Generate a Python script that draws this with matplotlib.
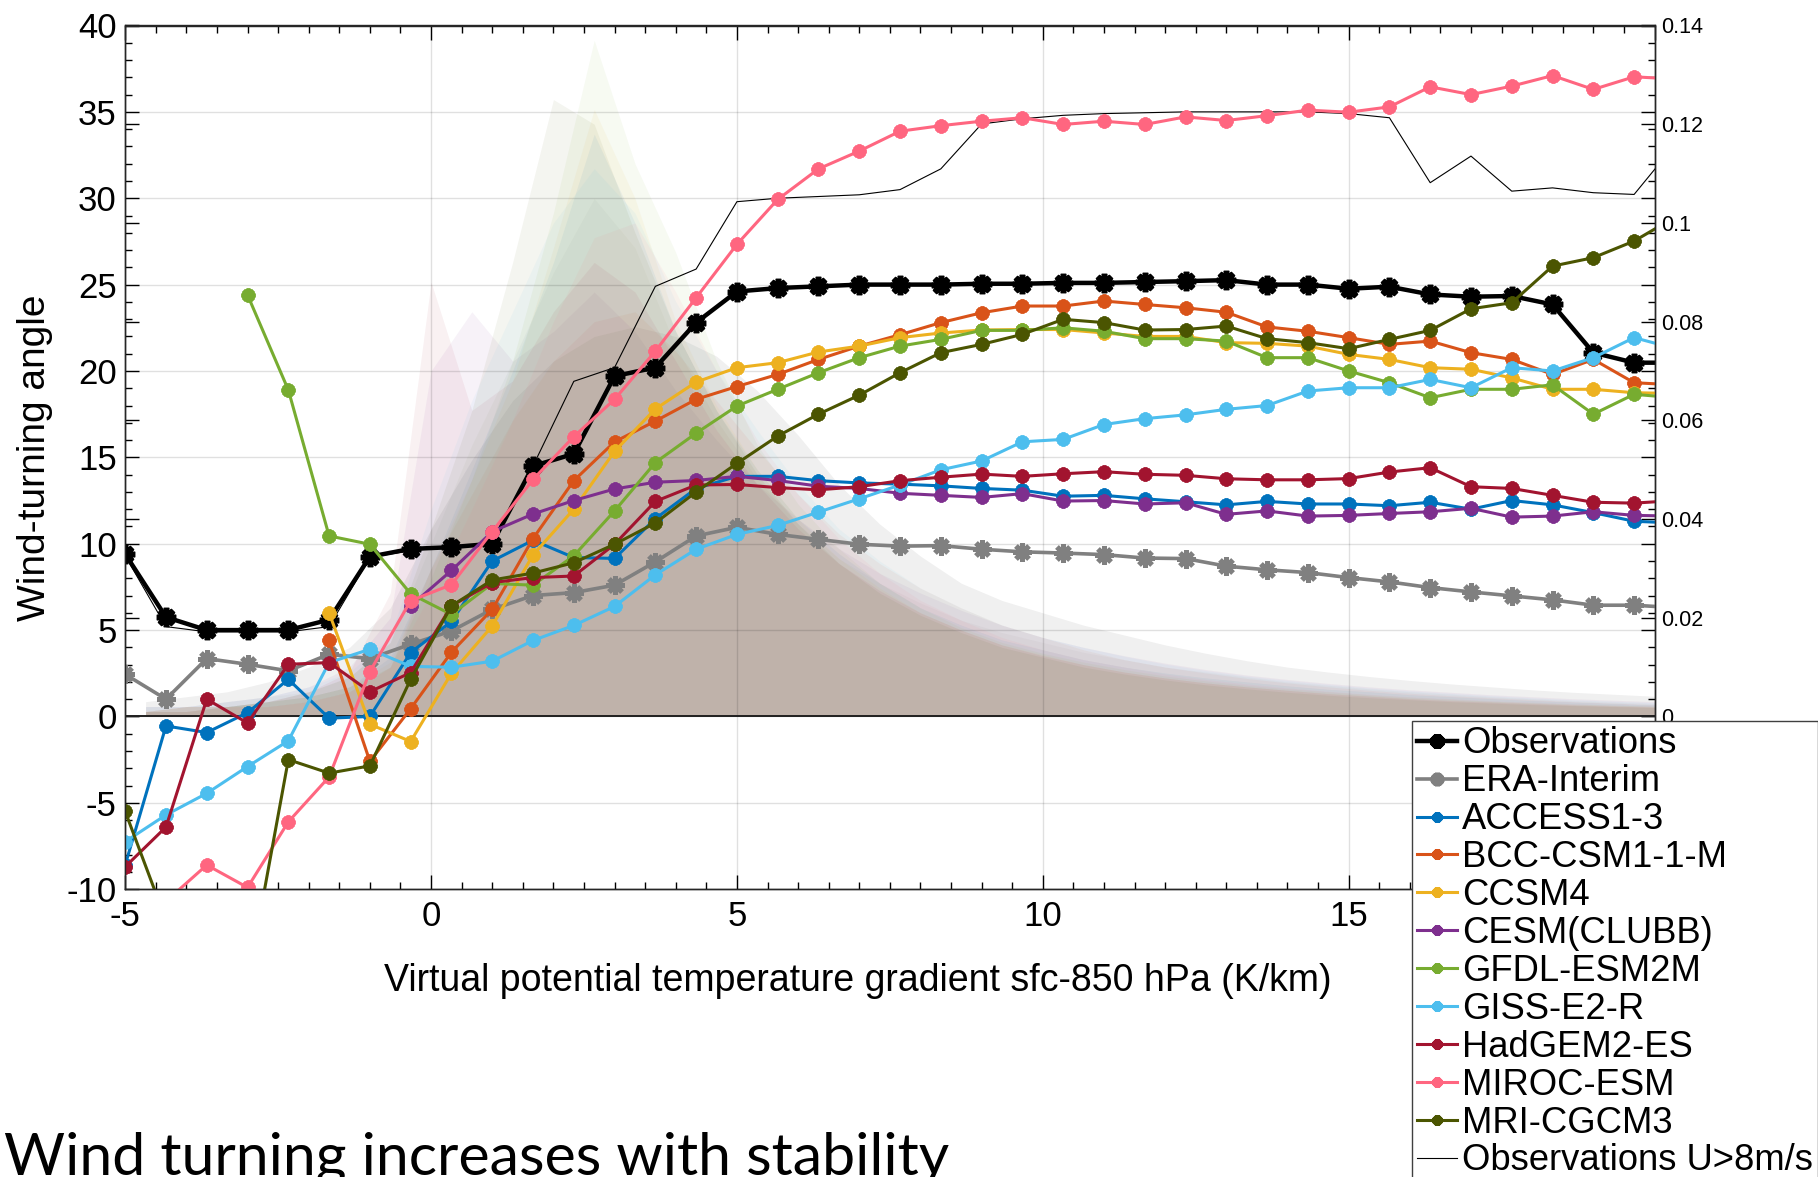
import numpy as np
import matplotlib
matplotlib.use('Agg')
import matplotlib.pyplot as plt
from matplotlib.ticker import MultipleLocator

plt.rcParams['font.family'] = ['Liberation Sans', 'DejaVu Sans']
plt.rcParams['axes.unicode_minus'] = False

nan = np.nan

# stability bin centres (K/km); the pdfs sit on the bin edges
x = -5 + np.arange(39) * 2 / 3
x_pdf = x + 1 / 3

# mean wind-turning angle per bin (deg)
obs = [9.4, 5.75, 5.0, 5.0, 5.0, 5.6, 9.25, 9.7, 9.8, 10.0, 14.5, 15.2, 19.7, 20.2, 22.8, 24.6,
       24.8, 24.9, 25.0, 25.0, 25.0, 25.05, 25.05, 25.1, 25.1, 25.15, 25.2, 25.26, 25.0, 25.0,
       24.76, 24.88, 24.43, 24.3, 24.34, 23.85, 21.06, 20.48, 20.48]
obs_u8 = [9.3, 5.2, 4.9, 4.9, 4.9, 5.2, 9.2, 9.6, 9.8, 10.0, 14.5, 19.4, 20.2, 24.9, 25.9, 29.8,
          30.0, 30.1, 30.2, 30.5, 31.7, 34.3, 34.6, 34.8, 34.9, 34.95, 35.0, 35.0, 35.0, 35.0,
          34.9, 34.66, 30.9, 32.44, 30.41, 30.6, 30.32, 30.22, 33.1]
era = [2.44, 1.0, 3.35, 3.02, 2.64, 3.6, 3.35, 4.18, 4.95, 6.2, 7.0, 7.17, 7.6, 8.95, 10.45, 10.95,
       10.54, 10.25, 9.97, 9.86, 9.89, 9.68, 9.53, 9.46, 9.37, 9.17, 9.14, 8.7, 8.49, 8.33, 8.04,
       7.79, 7.46, 7.21, 6.98, 6.75, 6.44, 6.44, 6.3]
access = [-8.6, -0.55, -0.93, 0.22, 2.15, -0.1, 0.0, 3.7, 5.5, 9.0, 10.2, 9.2, 9.15, 11.45, 13.2,
          13.9, 13.9, 13.65, 13.52, 13.45, 13.35, 13.2, 13.1, 12.75, 12.8, 12.6, 12.43, 12.25,
          12.45, 12.3, 12.3, 12.2, 12.4, 12.0, 12.5, 12.25, 11.8, 11.3, 11.2]
bcc = [nan, nan, nan, nan, nan, 4.4, -2.6, 0.45, 3.72, 6.2, 10.3, 13.65, 15.9, 17.1, 18.36, 19.1,
       19.8, 20.67, 21.44, 22.1, 22.8, 23.37, 23.76, 23.76, 24.05, 23.85, 23.66, 23.4, 22.55,
       22.3, 21.93, 21.54, 21.73, 21.06, 20.67, 19.8, 20.67, 19.32, 19.2]
ccsm4 = [nan, nan, nan, nan, nan, 6.0, -0.45, -1.45, 2.5, 5.24, 9.35, 12.0, 15.35, 17.8, 19.36,
         20.19, 20.48, 21.1, 21.44, 21.93, 22.2, 22.37, 22.4, 22.4, 22.2, 22.0, 22.0, 21.64, 21.6,
         21.44, 20.96, 20.67, 20.19, 20.1, 19.6, 18.94, 18.94, 18.74, 18.7]
cesm = [nan, nan, nan, nan, nan, nan, nan, 6.4, 8.45, 10.7, 11.72, 12.5, 13.17, 13.56, 13.66,
        13.9, 13.66, 13.33, 13.2, 12.92, 12.8, 12.68, 12.9, 12.47, 12.5, 12.3, 12.37, 11.7, 11.9,
        11.6, 11.64, 11.75, 11.85, 12.05, 11.54, 11.6, 11.85, 11.64, 11.6]
gfdl = [nan, nan, nan, 24.4, 18.9, 10.45, 9.97, 7.1, 5.9, 7.7, 7.6, 9.3, 11.9, 14.7, 16.4, 17.97,
        18.94, 19.9, 20.77, 21.44, 21.83, 22.35, 22.35, 22.5, 22.3, 21.87, 21.87, 21.73, 20.77,
        20.77, 20.0, 19.32, 18.45, 18.94, 18.94, 19.2, 17.5, 18.65, 18.45]
giss = [-7.25, -5.7, -4.45, -2.9, -1.41, 3.12, 3.89, 2.9, 2.85, 3.2, 4.4, 5.27, 6.37, 8.2, 9.68,
        10.54, 11.06, 11.83, 12.6, 13.4, 14.28, 14.79, 15.9, 16.04, 16.9, 17.24, 17.46, 17.78,
        18.0, 18.84, 19.03, 19.03, 19.51, 19.03, 20.19, 20.0, 20.77, 21.93, 21.3]
hadgem = [-8.7, -6.4, 1.0, -0.38, 3.02, 3.12, 1.43, 2.54, 6.4, 7.75, 8.04, 8.13, 9.97, 12.45,
          13.4, 13.43, 13.25, 13.12, 13.3, 13.65, 13.85, 14.03, 13.9, 14.05, 14.17, 14.02, 13.96,
          13.76, 13.7, 13.7, 13.77, 14.15, 14.4, 13.3, 13.2, 12.8, 12.4, 12.35, 12.5]
miroc = [-13.0, -10.7, -8.6, -9.9, -6.1, -3.5, 2.6, 6.7, 7.63, 10.7, 13.72, 16.2, 18.36, 21.15,
         24.24, 27.33, 29.93, 31.7, 32.73, 33.88, 34.2, 34.46, 34.66, 34.27, 34.46, 34.27, 34.71,
         34.5, 34.78, 35.1, 34.98, 35.29, 36.45, 36.0, 36.49, 37.1, 36.3, 37.03, 36.9]
mri = [-5.5, -11.8, -14.0, -15.4, -2.5, -3.28, -2.86, 2.15, 6.4, 7.9, 8.3, 8.9, 9.97, 11.2, 13.0,
       14.65, 16.23, 17.5, 18.6, 19.9, 21.06, 21.54, 22.12, 22.99, 22.8, 22.37, 22.4, 22.6, 21.87,
       21.64, 21.29, 21.83, 22.35, 23.6, 23.95, 26.07, 26.56, 27.52, 28.9]

# frequency of occurrence per bin (x 1e-3)
pdf_obs = [3, 4, 5, 7, 10, 14, 22, 38, 52, 64, 72, 77, 79, 77, 73, 66, 57, 47, 39, 32.5, 27, 23.5,
           21, 18.5, 16.5, 14.5, 12.8, 11.3, 10, 9, 8.1, 7.3, 6.6, 6, 5.4, 4.9, 4.5, 4.1, 3.8]
pdf_era = [2, 2, 3, 4, 5, 8, 15, 35, 55, 72, 90, 105, 95, 75, 60, 48, 39, 32, 27, 23, 19.5, 17,
           15, 13, 11.5, 10, 9, 8, 7, 6.3, 5.6, 5, 4.5, 4, 3.6, 3.2, 2.9, 2.6, 2.4]
pdf_access = [1, 1, 2, 3, 4, 6, 12, 30, 50, 70, 92, 118, 100, 78, 62, 50, 40, 33, 27, 22, 18.5,
              15.5, 13.5, 11.5, 10, 8.8, 7.8, 7, 6.2, 5.5, 5, 4.4, 4, 3.6, 3.2, 2.9, 2.6, 2.3, 2.1]
pdf_bcc = [1, 1, 2, 2, 3, 5, 10, 30, 45, 60, 72, 80, 82, 74, 64, 54, 45, 37, 31, 26, 22, 18.5, 16,
           13.5, 11.5, 10, 8.8, 7.7, 6.8, 6, 5.3, 4.7, 4.2, 3.8, 3.4, 3, 2.7, 2.4, 2.2]
pdf_ccsm4 = [1, 2, 2, 3, 4, 6, 11, 30, 48, 68, 95, 123, 105, 80, 63, 50, 40, 32, 26, 21, 17.5,
             14.5, 12.5, 10.5, 9, 7.8, 6.8, 6, 5.3, 4.7, 4.2, 3.7, 3.3, 3, 2.7, 2.4, 2.2, 2, 1.8]
pdf_cesm = [2, 2, 3, 4, 6, 10, 20, 70, 82, 72, 78, 86, 78, 66, 56, 47, 40, 34, 29, 25, 21.5, 18.5,
            16, 14, 12.3, 10.8, 9.5, 8.4, 7.5, 6.7, 6, 5.4, 4.9, 4.4, 4, 3.6, 3.3, 3, 2.8]
pdf_gfdl = [1, 1, 2, 3, 4, 6, 10, 28, 48, 72, 102, 137, 112, 94, 72, 55, 43, 34, 27, 22, 18, 15,
            12.8, 11, 9.5, 8.2, 7.2, 6.3, 5.6, 5, 4.4, 3.9, 3.5, 3.1, 2.8, 2.5, 2.3, 2.1, 1.9]
pdf_giss = [2, 2, 3, 4, 6, 9, 16, 42, 64, 82, 100, 111, 102, 84, 70, 58, 47, 38, 31.5, 26, 22,
            18.5, 16, 14, 12.2, 10.6, 9.3, 8.2, 7.3, 6.5, 5.8, 5.2, 4.7, 4.2, 3.8, 3.4, 3.1, 2.8, 2.6]
pdf_hadgem = [1, 2, 2, 3, 5, 9, 25, 88, 62, 68, 82, 92, 86, 72, 58, 47, 38, 31, 25.5, 21, 17.5,
              14.5, 12.3, 10.5, 9, 7.8, 6.8, 6, 5.3, 4.6, 4.1, 3.6, 3.2, 2.9, 2.6, 2.3, 2.1, 1.9, 1.7]
pdf_miroc = [1, 1, 2, 2, 3, 5, 10, 25, 42, 60, 80, 97, 100, 86, 70, 56, 45, 36, 29, 23.5, 19.5,
             16, 13.5, 11.5, 10, 8.6, 7.5, 6.6, 5.8, 5.1, 4.5, 4, 3.6, 3.2, 2.9, 2.6, 2.3, 2.1, 1.9]
pdf_mri = [1, 2, 2, 3, 5, 8, 15, 38, 62, 92, 125, 120, 98, 78, 62, 49, 39, 31, 25, 20.5, 17, 14,
           12, 10, 8.6, 7.4, 6.4, 5.6, 4.9, 4.3, 3.8, 3.4, 3, 2.7, 2.4, 2.2, 2, 1.8, 1.6]

names = ['Observations', 'ERA-Interim', 'ACCESS1-3', 'BCC-CSM1-1-M', 'CCSM4', 'CESM(CLUBB)',
         'GFDL-ESM2M', 'GISS-E2-R', 'HadGEM2-ES', 'MIROC-ESM', 'MRI-CGCM3']
angles = [obs, era, access, bcc, ccsm4, cesm, gfdl, giss, hadgem, miroc, mri]
pdfs = [pdf_obs, pdf_era, pdf_access, pdf_bcc, pdf_ccsm4, pdf_cesm, pdf_gfdl, pdf_giss,
        pdf_hadgem, pdf_miroc, pdf_mri]
colors = ['#000000', '#808080', '#0072BD', '#D95319', '#EDB120', '#7E2F8E', '#77AC30',
          '#4DBEEE', '#A2142F', '#FF6680', '#4B5501']

fig = plt.figure(figsize=(18.18, 11.77), dpi=100)
ax = fig.add_axes([125.2 / 1818, 1 - 889.2 / 1177, (1654.5 - 125.2) / 1818, (889.2 - 25.5) / 1177])
ax2 = ax.twinx()
ax.set_zorder(ax2.get_zorder() + 1)
ax.patch.set_visible(False)

# occurrence histograms on the right axis
for p, c in zip(pdfs, colors):
    ax2.fill_between(x_pdf, np.array(p) / 1000, 0, color=c, alpha=0.06, lw=0)
ax2.set_ylim(-0.035, 0.14)
ax2.set_yticks(np.arange(0, 0.141, 0.02))
ax2.set_yticklabels(['0', '0.02', '0.04', '0.06', '0.08', '0.1', '0.12', '0.14'])
ax2.tick_params(axis='y', direction='in', left=True, right=True, labelleft=False,
                labelright=True, length=10, width=1, labelsize=15.5, pad=5)

ax.grid(True, which='major', color='black', alpha=0.12, lw=1.0)
ax.axhline(0, color='#202020', lw=1.4, zorder=1.8)

ax.plot(x, obs_u8, color='black', lw=0.8, zorder=1.9)
handles = []
for i, (n, y, c) in enumerate(zip(names, angles, colors)):
    if i == 0:
        lw, ms, mew = 3.2, 14, 4.0
    elif i == 1:
        lw, ms, mew = 2.6, 13, 3.6
    else:
        lw, ms, mew = 2.2, 10, 3.0
    h, = ax.plot(x, y, color=c, lw=lw, marker=(8, 2, 0), ms=ms, mew=mew, mec=c, label=n)
    handles.append(h)
h_u8, = ax.plot([], [], color='black', lw=0.8, label='Observations U>8m/s')
handles.append(h_u8)

ax.set_xlim(-5, 20)
ax.set_ylim(-10, 40)
ax.xaxis.set_major_locator(MultipleLocator(5))
ax.xaxis.set_minor_locator(MultipleLocator(0.5))
ax.yaxis.set_major_locator(MultipleLocator(5))
ax.yaxis.set_minor_locator(MultipleLocator(1))
ax.set_xticks([-5, 0, 5, 10, 15, 20])
# the 20 label sits under the legend box
ax.set_xticklabels(['-5', '0', '5', '10', '15', ''])
ax.tick_params(which='both', direction='in', top=True, right=True, width=1)
ax.tick_params(which='major', length=10, labelsize=25)
ax.tick_params(which='minor', length=5)
ax.tick_params(axis='x', pad=8)
ax.tick_params(axis='y', pad=6)
for s in list(ax.spines.values()) + list(ax2.spines.values()):
    s.set_linewidth(1.0)
    s.set_color('#262626')

ax.set_xlabel('Virtual potential temperature gradient sfc-850 hPa (K/km)', fontsize=27)
ax.xaxis.set_label_coords(0.479, -0.086)
ax.set_ylabel('Wind-turning angle', fontsize=28)
ax.yaxis.set_label_coords(-0.047, 0.5)

leg = fig.legend(handles=handles, loc='upper left', bbox_to_anchor=(1412 / 1818, 1 - 721 / 1177),
                 bbox_transform=fig.transFigure, fontsize=26.2, frameon=True, fancybox=False,
                 edgecolor='#404040', framealpha=1, borderpad=0.15, labelspacing=0.08,
                 handlelength=1.1, handletextpad=0.12, borderaxespad=0, markerscale=0.75)
leg.get_frame().set_linewidth(1.0)

fig.text(3.5 / 1818, 2.5 / 1177, 'Wind turning increases with stability', fontsize=42.5,
         family=['Lato', 'DejaVu Sans'], ha='left', va='baseline')

fig.savefig('out.png', dpi=100)
